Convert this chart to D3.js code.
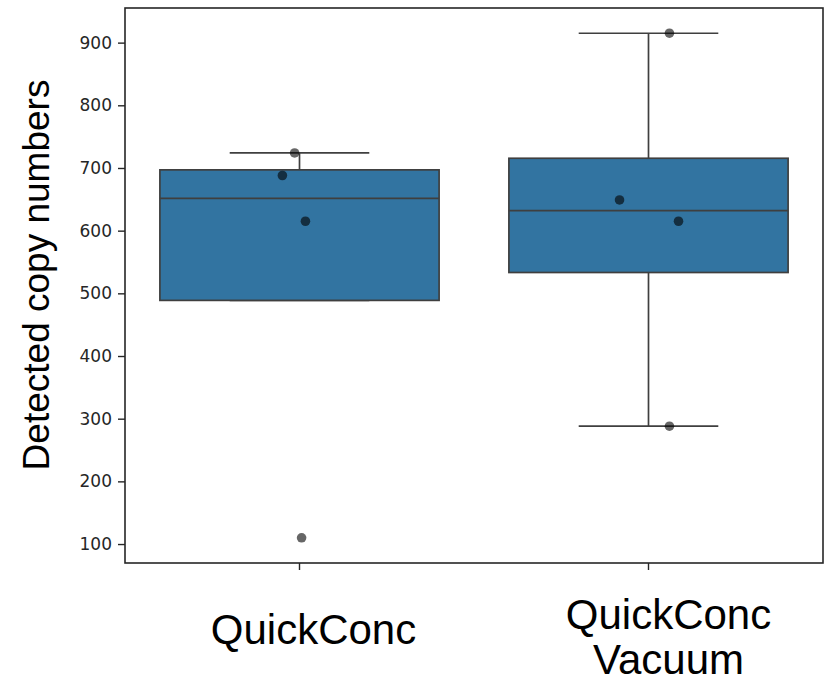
<!DOCTYPE html>
<html>
<head>
<meta charset="utf-8">
<script src="https://cdn.jsdelivr.net/npm/d3@7"></script>
<style>
  body { margin: 0; background: #fff; }
  svg { display: block; }
</style>
</head>
<body>
<svg id="chart"></svg>
<script>
const categories = ['QuickConc', 'QuickConc Vacuum'];
const labelLines = [['QuickConc'], ['QuickConc', 'Vacuum']];
const quickConc = [724, 688, 615, 110];
const quickConcVacuum = [915, 649, 615, 288];
// horizontal strip jitter, in category widths
const jitterQuickConc = [-0.014, -0.049, 0.017, 0.006];
const jitterVacuum = [0.06, -0.083, 0.086, 0.06];
const yTicks = [100, 200, 300, 400, 500, 600, 700, 800, 900];

const series = [quickConc, quickConcVacuum];
const jitters = [jitterQuickConc, jitterVacuum];

const width = 825, height = 685;
const margin = {top: 8, right: 2, bottom: 122, left: 125};

const svg = d3.select('#chart').attr('width', width).attr('height', height);

const x = d3.scaleBand().domain(categories)
  .range([margin.left, width - margin.right]).paddingInner(0).paddingOuter(0);

const all = series.flat();
const [lo, hi] = d3.extent(all);
const pad = (hi - lo) * 0.05;
const y = d3.scaleLinear().domain([lo - pad, hi + pad])
  .range([height - margin.bottom, margin.top]);

const stats = series.map(vals => {
  const s = vals.slice().sort(d3.ascending);
  const q1 = d3.quantile(s, 0.25), med = d3.quantile(s, 0.5), q3 = d3.quantile(s, 0.75);
  const iqr = q3 - q1;
  const lowIn = s.filter(v => v >= q1 - 1.5 * iqr);
  const highIn = s.filter(v => v <= q3 + 1.5 * iqr);
  return {q1, med, q3, wlo: Math.min(d3.min(lowIn), q1), whi: Math.max(d3.max(highIn), q3)};
});

const lineColor = '#3f3f3f';
const boxColor = '#3274a1';
const bw = x.bandwidth();

const g = svg.append('g');

stats.forEach((st, i) => {
  const cx = x(categories[i]) + bw / 2;
  const grp = g.append('g');
  // whiskers
  grp.append('line').attr('x1', cx).attr('x2', cx).attr('y1', y(st.q3)).attr('y2', y(st.whi))
    .attr('stroke', lineColor).attr('stroke-width', 1.7);
  grp.append('line').attr('x1', cx).attr('x2', cx).attr('y1', y(st.q1)).attr('y2', y(st.wlo))
    .attr('stroke', lineColor).attr('stroke-width', 1.7);
  [st.whi, st.wlo].forEach(v => {
    grp.append('line').attr('x1', cx - bw * 0.2).attr('x2', cx + bw * 0.2)
      .attr('y1', y(v)).attr('y2', y(v))
      .attr('stroke', lineColor).attr('stroke-width', 1.7);
  });
  // box
  grp.append('rect').attr('x', cx - bw * 0.4).attr('width', bw * 0.8)
    .attr('y', y(st.q3)).attr('height', y(st.q1) - y(st.q3))
    .attr('fill', boxColor).attr('stroke', lineColor).attr('stroke-width', 1.7);
  grp.append('line').attr('x1', cx - bw * 0.4).attr('x2', cx + bw * 0.4)
    .attr('y1', y(st.med)).attr('y2', y(st.med))
    .attr('stroke', lineColor).attr('stroke-width', 1.7);
});

// strip points
series.forEach((vals, i) => {
  const cx = x(categories[i]) + bw / 2;
  g.append('g').selectAll('circle').data(vals).join('circle')
    .attr('cx', (d, j) => cx + jitters[i][j] * bw)
    .attr('cy', d => y(d))
    .attr('r', 4.8)
    .attr('fill', '#000').attr('fill-opacity', 0.6);
});

// frame
svg.append('rect')
  .attr('x', margin.left).attr('y', margin.top)
  .attr('width', width - margin.right - margin.left)
  .attr('height', height - margin.bottom - margin.top)
  .attr('fill', 'none').attr('stroke', '#262626').attr('stroke-width', 1.6);

// y axis
const yAxis = svg.append('g').attr('transform', `translate(${margin.left},0)`)
  .call(d3.axisLeft(y).tickValues(yTicks).tickSize(7).tickPadding(6));
yAxis.select('.domain').remove();
yAxis.selectAll('line').attr('stroke', '#262626').attr('stroke-width', 1.4);
yAxis.selectAll('text').attr('fill', '#262626')
  .style('font-family', 'DejaVu Sans').style('font-size', '17px');

// x axis ticks
const xAxis = svg.append('g').attr('transform', `translate(0,${height - margin.bottom})`)
  .call(d3.axisBottom(x).tickSize(7).tickFormat(''));
xAxis.select('.domain').remove();
xAxis.selectAll('line').attr('stroke', '#262626').attr('stroke-width', 1.4);

// x category labels (sit a bit right of their ticks, as in the original)
const labelShift = [14, 20];
categories.forEach((c, i) => {
  const lines = labelLines[i];
  const cx = x(c) + bw / 2 + labelShift[i];
  const t = svg.append('text')
    .attr('text-anchor', 'middle')
    .style('font-family', 'Liberation Sans, Arial, sans-serif')
    .style('font-size', '42px').attr('fill', '#000');
  const base = lines.length === 1 ? 644 : 629;
  lines.forEach((l, k) => {
    t.append('tspan').attr('x', cx).attr('y', base + k * 45).text(l);
  });
});

// y label
svg.append('text')
  .attr('transform', `translate(49,${275}) rotate(-90)`)
  .attr('text-anchor', 'middle')
  .style('font-family', 'Liberation Sans, Arial, sans-serif')
  .style('font-size', '37px').attr('fill', '#000')
  .text('Detected copy numbers');
</script>
</body>
</html>
